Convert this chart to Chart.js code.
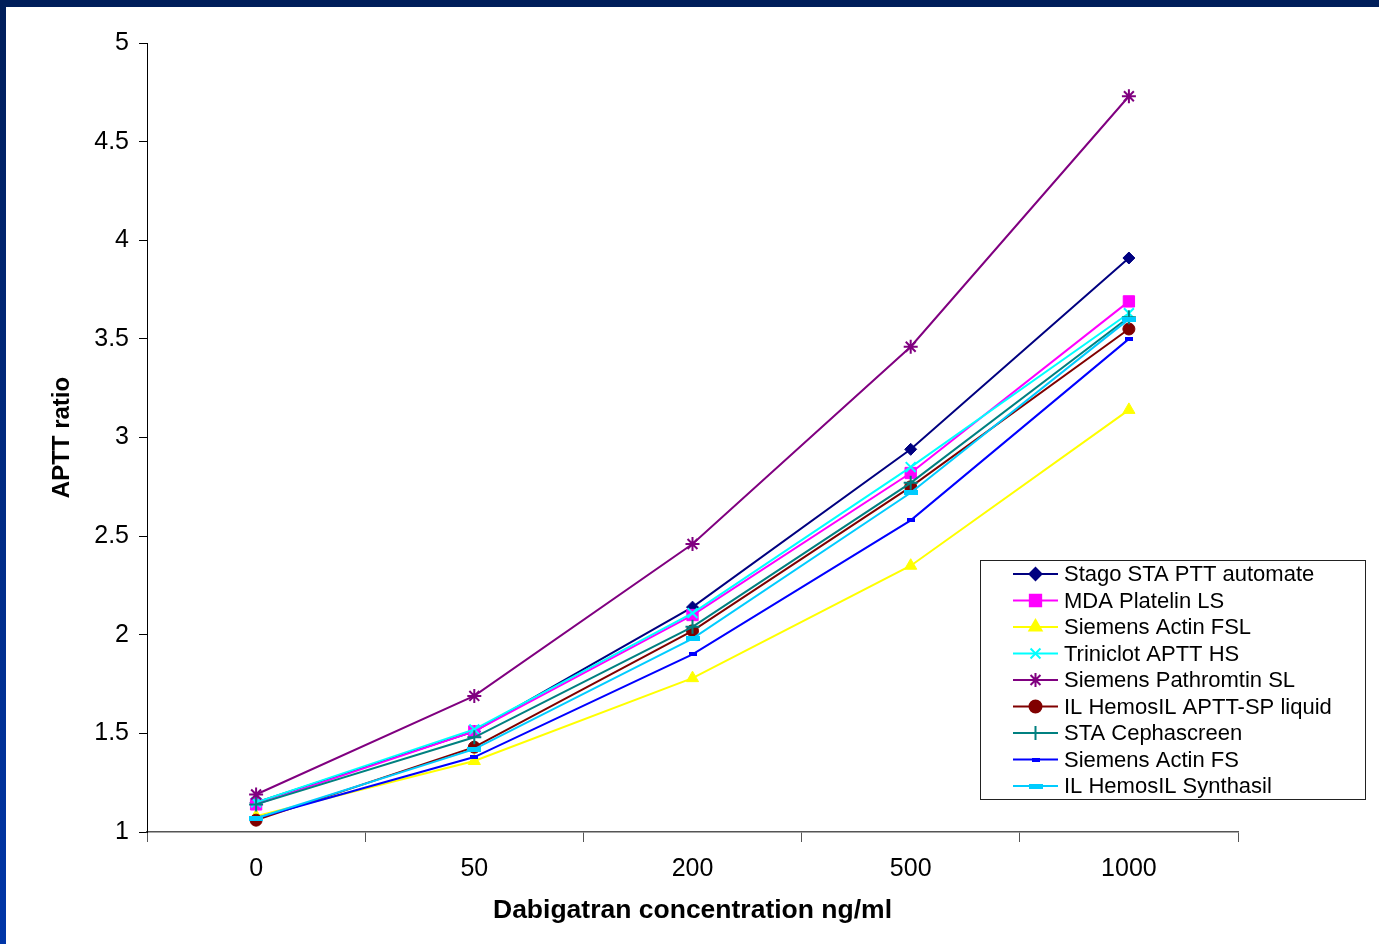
<!DOCTYPE html>
<html>
<head>
<meta charset="utf-8">
<script src="https://cdn.jsdelivr.net/npm/chart.js@4.4.1/dist/chart.umd.min.js"></script>
<style>
  html, body { margin: 0; padding: 0; }
  body {
    width: 1379px; height: 944px; overflow: hidden;
    background: linear-gradient(to bottom, #001e5a, #0036a8);
    position: relative;
  }
  #frame {
    position: absolute; left: 6px; top: 7px; width: 1373px; height: 937px;
    background: #fff;
  }
</style>
</head>
<body>
<div id="frame"><canvas id="grafico" width="1373" height="937"></canvas></div>
<script>
// datos
const dosis = ['0', '50', '200', '500', '1000'];
const stago = [1.15, 1.51, 2.14, 2.94, 3.91];
const platelin = [1.14, 1.51, 2.10, 2.82, 3.69];
const actinFsl = [1.08, 1.36, 1.78, 2.35, 3.14];
const triniclot = [1.15, 1.52, 2.11, 2.85, 3.63];
const pathromtin = [1.19, 1.69, 2.46, 3.46, 4.73];
const hemosilSp = [1.06, 1.43, 2.02, 2.75, 3.55];
const cephascreen = [1.14, 1.48, 2.04, 2.77, 3.61];
const actinFs = [1.07, 1.38, 1.90, 2.58, 3.50];
const synthasil = [1.07, 1.42, 1.98, 2.72, 3.60];

const fuente = "'Liberation Sans', Arial, sans-serif";

function barrita(color, w, h) {
  const c = document.createElement('canvas');
  c.width = w; c.height = h;
  const g = c.getContext('2d');
  g.fillStyle = color;
  g.fillRect(0, 0, w, h);
  return c;
}

const series = [
  { label: 'Stago STA PTT automate', data: stago, color: '#000080', style: 'rectRot', r: 6 },
  { label: 'MDA Platelin LS', data: platelin, color: '#ff00ff', style: 'rect', r: 8 },
  { label: 'Siemens Actin FSL', data: actinFsl, color: '#ffff00', style: 'triangle', r: 7 },
  { label: 'Triniclot APTT HS', data: triniclot, color: '#00ffff', style: 'crossRot', r: 7 },
  { label: 'Siemens Pathromtin SL', data: pathromtin, color: '#800080', style: 'star', r: 7 },
  { label: 'IL HemosIL APTT-SP liquid', data: hemosilSp, color: '#800000', style: 'circle', r: 6 },
  { label: 'STA Cephascreen', data: cephascreen, color: '#008080', style: 'cross', r: 7 },
  { label: 'Siemens Actin FS', data: actinFs, color: '#0000ff', style: barrita('#0000ff', 8, 4), r: 4 },
  { label: 'IL HemosIL Synthasil', data: synthasil, color: '#00ccff', style: barrita('#00ccff', 14, 5), r: 6 }
];

const datasets = series.map((s, i) => ({
  label: s.label,
  data: s.data,
  borderColor: s.color,
  backgroundColor: s.color,
  borderWidth: 2,
  pointStyle: s.style,
  pointRadius: s.r,
  pointHoverRadius: s.r,
  pointBorderWidth: (s.style === 'cross' || s.style === 'crossRot' || s.style === 'star') ? 2 : 1,
  tension: 0,
  order: series.length - i
}));

// leyenda dentro del area, con recuadro
const leyendaCaja = {
  id: 'leyendaCaja',
  afterDraw(chart) {
    const ctx = chart.ctx;
    const x0 = 974, y0 = 553, w = 385, h = 239;
    ctx.save();
    ctx.fillStyle = '#fff';
    ctx.fillRect(x0, y0, w, h);
    ctx.strokeStyle = '#222';
    ctx.lineWidth = 1;
    ctx.strokeRect(x0 + 0.5, y0 + 0.5, w, h);
    ctx.font = '22px ' + fuente;
    ctx.textBaseline = 'middle';
    chart.data.datasets.forEach((ds, i) => {
      const y = 567 + i * 26.5;
      ctx.strokeStyle = ds.borderColor;
      ctx.fillStyle = ds.backgroundColor;
      ctx.lineWidth = 2;
      ctx.beginPath();
      ctx.moveTo(1007, y);
      ctx.lineTo(1052, y);
      ctx.stroke();
      Chart.helpers.drawPoint(ctx, {
        pointStyle: ds.pointStyle,
        radius: ds.pointRadius,
        borderWidth: ds.pointBorderWidth,
        rotation: 0
      }, 1029.5, y);
      ctx.fillStyle = '#000';
      ctx.fillText(ds.label, 1058, y + 1);
    });
    ctx.restore();
  }
};

new Chart(document.getElementById('grafico').getContext('2d'), {
  type: 'line',
  data: { labels: dosis, datasets: datasets },
  options: {
    responsive: false,
    animation: false,
    layout: { padding: { top: 36, right: 141, bottom: 0, left: 0 } },
    plugins: { legend: { display: false }, tooltip: { enabled: false } },
    scales: {
      x: {
        offset: true,
        grid: { offset: true, drawOnChartArea: false, drawTicks: true, tickLength: 10, color: '#555', lineWidth: 1 },
        border: { color: '#555', width: 1.5 },
        ticks: { color: '#000', font: { family: fuente, size: 25 }, padding: 12, maxRotation: 0 },
        title: {
          display: true, text: 'Dabigatran concentration ng/ml', color: '#000',
          font: { family: fuente, size: 26.5, weight: 'bold' }, padding: { top: 0, bottom: 17 }
        },
        afterFit(scale) { scale.height = 112; }
      },
      y: {
        min: 1, max: 5,
        grid: { drawOnChartArea: false, drawTicks: true, tickLength: 8, color: '#000' },
        border: { color: '#000', width: 1 },
        ticks: {
          stepSize: 0.5, color: '#000', font: { family: fuente, size: 25 }, padding: 10,
          callback: v => String(Number(v.toFixed(1)))
        },
        title: {
          display: true, text: 'APTT ratio', color: '#000',
          font: { family: fuente, size: 24, weight: 'bold' }, padding: { top: 42, bottom: 0 }
        },
        afterFit(scale) { scale.width = 141; }
      }
    }
  },
  plugins: [leyendaCaja]
});
</script>
</body>
</html>
